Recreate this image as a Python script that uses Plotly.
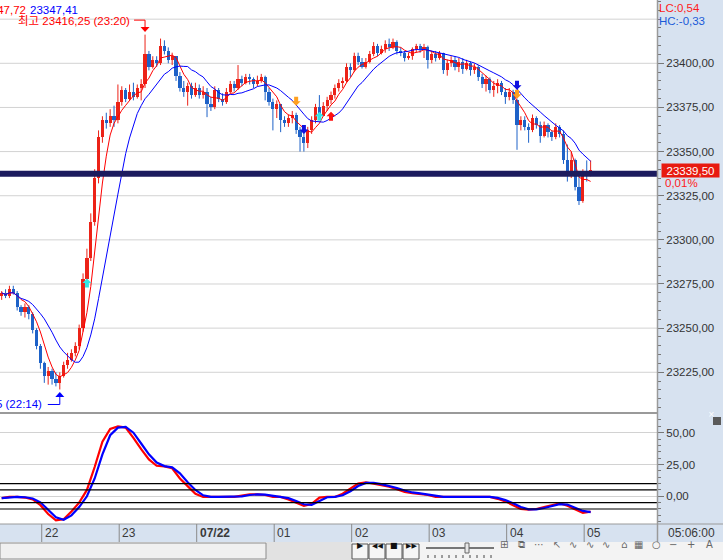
import plotly.graph_objects as go
import pandas as pd

# ---------------- data ----------------
first_open = 23268
close = [23270, 23268, 23272, 23270, 23262, 23259, 23262, 23258, 23249, 23240,
         23230, 23223, 23226, 23221, 23219, 23223, 23229, 23232, 23236, 23240,
         23250, 23278, 23290, 23310, 23335, 23358, 23368, 23366, 23370, 23368,
         23378, 23385, 23380, 23384, 23381, 23386, 23388, 23405, 23398, 23402,
         23400, 23410, 23407, 23402, 23404, 23393, 23386, 23384, 23387, 23382,
         23386, 23382, 23384, 23377, 23375, 23385, 23380, 23378, 23384, 23388,
         23386, 23391, 23389, 23392, 23391, 23388, 23390, 23392, 23384, 23378,
         23374, 23377, 23368, 23366, 23369, 23371, 23362, 23358, 23355, 23362,
         23368, 23375, 23370, 23376, 23379, 23382, 23386, 23389, 23390, 23398,
         23396, 23404, 23401, 23398, 23401, 23405, 23410, 23406, 23408, 23411,
         23409, 23412, 23407, 23406, 23403, 23404, 23408, 23410, 23408, 23409,
         23402, 23405, 23403, 23406, 23396, 23400, 23402, 23398, 23401, 23397,
         23400, 23396, 23398, 23392, 23388, 23391, 23385, 23387, 23389, 23384,
         23381, 23384, 23379, 23365, 23368, 23364, 23362, 23369, 23365, 23359,
         23365, 23361, 23358, 23364, 23360, 23345, 23336, 23345, 23330, 23322,
         23338, 23336, 23339.5]
high = [23271, 23272, 23274, 23274, 23271, 23263, 23264, 23263, 23259, 23250,
        23241, 23231, 23228, 23227, 23225, 23225, 23231, 23236, 23238, 23242,
        23252, 23281, 23295, 23315, 23340, 23362, 23370, 23372, 23374, 23376,
        23388, 23387, 23386, 23388, 23389, 23388, 23391, 23416.25, 23407, 23404,
        23404, 23414, 23413, 23409, 23406, 23404, 23395, 23390, 23389, 23389,
        23389, 23388, 23387, 23386, 23381, 23387, 23386, 23383, 23386, 23390,
        23390, 23399, 23393, 23394, 23394, 23392, 23393, 23394, 23393, 23386,
        23380, 23379, 23376, 23370, 23371, 23373, 23372, 23364, 23362, 23364,
        23370, 23377, 23382, 23378, 23381, 23384, 23388, 23391, 23392, 23400,
        23400, 23406, 23406, 23403, 23403, 23407, 23412, 23411, 23410, 23413,
        23414, 23414, 23413, 23409, 23407, 23406, 23409, 23411, 23411, 23411,
        23410, 23407, 23407, 23407, 23406, 23402, 23404, 23404, 23403, 23403,
        23402, 23401, 23400, 23399, 23394, 23393, 23392, 23390, 23391, 23390,
        23386, 23386, 23385, 23380, 23370, 23370, 23366, 23371, 23370, 23367,
        23367, 23366, 23362, 23366, 23365, 23362, 23354, 23350, 23346, 23338,
        23340, 23345, 23345]
low = [23266, 23267, 23267, 23269, 23260, 23257, 23256, 23255, 23247, 23238,
       23227, 23219, 23218, 23218, 23217, 23215.25, 23222, 23227, 23231, 23234,
       23238, 23248, 23276, 23288, 23308, 23332, 23355, 23363, 23364, 23364,
       23366, 23376, 23378, 23379, 23379, 23380, 23379, 23386, 23396, 23397,
       23398, 23399, 23405, 23400, 23399, 23390, 23384, 23381, 23376, 23380,
       23381, 23380, 23380, 23369.5, 23373, 23374, 23378, 23376, 23377, 23383,
       23384, 23385, 23387, 23388, 23388, 23386, 23387, 23389, 23379, 23376,
       23362, 23369, 23361, 23364, 23364, 23366, 23360, 23350, 23350, 23352,
       23360, 23366, 23369, 23370, 23373, 23377, 23380, 23384, 23386, 23389,
       23392, 23395, 23399, 23397, 23397, 23400, 23404, 23404, 23405, 23406,
       23407, 23408, 23405, 23404, 23401, 23402, 23402, 23406, 23406, 23403,
       23397, 23400, 23401, 23402, 23394, 23393, 23398, 23396, 23395, 23394,
       23396, 23393, 23394, 23390, 23386, 23384, 23383, 23381, 23383, 23382,
       23377, 23379, 23377, 23351, 23362, 23362, 23355, 23361, 23363, 23355,
       23358, 23358, 23356, 23357, 23358, 23343, 23333, 23335, 23328, 23319.75,
       23321, 23333, 23336]
osc = [-1.5, -0.5, -0.5, -1, -2.5, -7, -14, -19, -18, -12,
       -5, 5, 23, 43, 53, 55, 54, 46, 37, 29,
       24, 23.5, 22, 14, 8, 2, -0.5, -0.5, -0.5, -0.5,
       -0.5, 0.5, 1.5, 1.5, 1, -0.5, -0.5, -2.5, -5, -7.5,
       -6, -1, -0.5, -0.5, 2, 6, 10, 11, 10, 9,
       7.5, 5.5, 3.5, 2.5, 2, 1, -0.5, -0.5, -0.5, -0.5,
       -0.5, -0.5, -0.5, -0.5, -2, -4, -7, -10, -10.5, -10,
       -8.5, -7, -5.5, -7.5, -10, -13, -12]

times = pd.date_range("2024-07-21 21:29", periods=len(close), freq="3min")
osc_times = times[::2]

hline_level = 23337.5
osc_levels = [10, 5, -5, -10]
price_grid = [23225, 23250, 23275, 23300, 23325, 23350, 23375, 23400, 23425]
price_labels = [23225, 23250, 23275, 23300, 23325, 23350, 23375, 23400]
hour_ticks = pd.date_range("2024-07-21 22:00", periods=8, freq="1h")
hour_labels = ["22", "23", "07/22", "01", "02", "03", "04", "05"]

sig_cyan_up = ([22, 82], [23275.5, 23370])
sig_red_up = ([85], [23370])
sig_orange_down = ([76, 133], [23378.5, 23382.5])
sig_blue_down = ([78, 133], [23362.5, 23387.5])

last_change = "0,01%"
header_prev = "23347,72"
header_last = "23347,41"
lc_text = "LC:0,54"
hc_text = "HC:-0,33"
clock_text = "05:06:00"

# ---------------- derived ----------------
opens = [first_open] + close[:-1]
s = pd.Series(close)
ma_fast = s.rolling(5, min_periods=1).mean()
ma_slow = s.rolling(12, min_periods=1).mean()
osc_sig = pd.Series(osc).rolling(2, min_periods=1).mean()

W, H = 723, 560
def px(p):
    return p / W
def py(p):
    return 1 - p / H

FONT = "Liberation Sans, Noto Sans CJK KR, sans-serif"
FS = 11.5
RED = "#ec2318"
BLUE = "#1e62c8"
PANEL = "#d7e2f0"

fig = go.Figure()

# candles: wicks + bodies
for up, col in [(True, RED), (False, BLUE)]:
    idx = [k for k in range(len(close)) if (close[k] >= opens[k]) == up]
    wx, wy = [], []
    for k in idx:
        wx += [times[k], times[k], None]
        wy += [low[k], high[k], None]
    fig.add_trace(go.Scatter(x=wx, y=wy, mode="lines", line=dict(color=col, width=1),
                             xaxis="x", yaxis="y", showlegend=False, hoverinfo="skip"))
    fig.add_trace(go.Bar(x=[times[k] for k in idx],
                         base=[min(opens[k], close[k]) for k in idx],
                         y=[max(abs(close[k] - opens[k]), 1.2) for k in idx],
                         width=3 * 60 * 1000 * 0.82, marker=dict(color=col, line=dict(width=0)),
                         xaxis="x", yaxis="y", showlegend=False, hoverinfo="skip"))

fig.add_trace(go.Scatter(x=times, y=ma_fast, mode="lines",
                         line=dict(color="#ff0000", width=1), xaxis="x", yaxis="y",
                         showlegend=False, hoverinfo="skip"))
fig.add_trace(go.Scatter(x=times, y=ma_slow, mode="lines",
                         line=dict(color="#0000ff", width=1), xaxis="x", yaxis="y",
                         showlegend=False, hoverinfo="skip"))
fig.add_trace(go.Scatter(x=osc_times, y=osc, mode="lines",
                         line=dict(color="#ff0000", width=2.2), xaxis="x2", yaxis="y2",
                         showlegend=False, hoverinfo="skip"))
fig.add_trace(go.Scatter(x=osc_times, y=osc_sig, mode="lines",
                         line=dict(color="#0000ff", width=2.2), xaxis="x2", yaxis="y2",
                         showlegend=False, hoverinfo="skip"))

shapes = []
ann = []

# price gridlines
for g in price_grid:
    shapes.append(dict(type="line", xref="x domain", x0=0, x1=1, yref="y", y0=g, y1=g,
                       line=dict(color="#d2d2d2", width=1), layer="below"))

# thick horizontal line
shapes.append(dict(type="line", xref="x domain", x0=0, x1=1, yref="y",
                   y0=hline_level, y1=hline_level, line=dict(color="#1c1b5e", width=6)))
# oscillator reference lines
for lv in osc_levels:
    shapes.append(dict(type="line", xref="x2 domain", x0=0, x1=1, yref="y2",
                       y0=lv, y1=lv, line=dict(color="#000000", width=1.2)))

# signal arrows
UP = "M0,4.5 L4.5,0 L2,0 L2,-4.5 L-2,-4.5 L-2,0 L-4.5,0 Z"
DN = "M0,-4.5 L4.5,0 L2,0 L2,4.5 L-2,4.5 L-2,0 L-4.5,0 Z"
for (idxs, prices), path, col in [(sig_cyan_up, UP, "#33e6e6"), (sig_red_up, UP, "#ff1010"),
                                  (sig_orange_down, DN, "#ffa020"), (sig_blue_down, DN, "#1010e0")]:
    for i, pv in zip(idxs, prices):
        shapes.append(dict(type="path", xref="x", yref="y", xsizemode="pixel", ysizemode="pixel",
                           xanchor=times[i], yanchor=pv, path=path,
                           fillcolor=col, line=dict(width=0), layer="above"))

# highest / lowest markers
i_hi = max(range(len(high)), key=lambda k: high[k])
i_lo = min(range(len(low)), key=lambda k: low[k])
hi_col = "#ff0000"
lo_col = "#0000ff"
shapes.append(dict(type="path", xref="x", yref="y", xsizemode="pixel", ysizemode="pixel",
                   xanchor=times[i_hi], yanchor=high[i_hi], path="M0,2.5 L4.5,7.5 L-4.5,7.5 Z",
                   fillcolor=hi_col, line=dict(width=0), layer="above"))
shapes.append(dict(type="path", xref="x", yref="y", xsizemode="pixel", ysizemode="pixel",
                   xanchor=times[i_hi], yanchor=high[i_hi], path="M0,7.5 L0,14.5 L-11,14.5",
                   line=dict(color=hi_col, width=1), layer="above"))
ann.append(dict(x=times[i_hi], y=high[i_hi], xref="x", yref="y", xanchor="right", yanchor="middle",
                xshift=-13, yshift=14, showarrow=False,
                text="최고 " + f"{high[i_hi]:.2f}".replace(".", ",") + " (23:20)",
                font=dict(family=FONT, size=FS, color=hi_col)))
shapes.append(dict(type="path", xref="x", yref="y", xsizemode="pixel", ysizemode="pixel",
                   xanchor=times[i_lo], yanchor=low[i_lo], path="M0,-2.5 L4.5,-7.5 L-4.5,-7.5 Z",
                   fillcolor=lo_col, line=dict(width=0), layer="above"))
shapes.append(dict(type="path", xref="x", yref="y", xsizemode="pixel", ysizemode="pixel",
                   xanchor=times[i_lo], yanchor=low[i_lo], path="M0,-7.5 L0,-15 L-12,-15",
                   line=dict(color=lo_col, width=1), layer="above"))
ann.append(dict(x=times[i_lo], y=low[i_lo], xref="x", yref="y", xanchor="right", yanchor="middle",
                xshift=-16, yshift=-15, showarrow=False,
                text="최저 " + f"{low[i_lo]:.2f}".replace(".", ",") + " (22:14)",
                font=dict(family=FONT, size=FS, color=lo_col)))

# header text (clipped at left)
ann.append(dict(x=px(28), y=py(10), xref="paper", yref="paper", xanchor="right", yanchor="middle",
                showarrow=False, text=header_prev, font=dict(family=FONT, size=FS, color="#ff0000")))
ann.append(dict(x=px(28), y=py(10), xref="paper", yref="paper", xanchor="left", yanchor="middle",
                showarrow=False, text=header_last, font=dict(family=FONT, size=FS, color="#0000ff")))
# LC / HC
ann.append(dict(x=px(658), y=py(8), xref="paper", yref="paper", xanchor="left", yanchor="middle",
                showarrow=False, text=lc_text, borderpad=0,
                font=dict(family=FONT, size=FS, color="#ff1a1a")))
ann.append(dict(x=px(658), y=py(21), xref="paper", yref="paper", xanchor="left", yanchor="middle",
                showarrow=False, text=hc_text, borderpad=0,
                font=dict(family=FONT, size=FS, color="#1a5ad8")))
# current price box
ann.append(dict(x=px(661), y=close[-1], xref="paper", yref="y", xanchor="left", yanchor="middle",
                showarrow=False, text=f"{close[-1]:.2f}".replace(".", ","), bgcolor="#e81a10",
                borderpad=0, width=57, height=13,
                font=dict(family=FONT, size=FS, color="white")))
ann.append(dict(x=px(663), y=close[-1], xref="paper", yref="y", xanchor="left", yanchor="middle",
                yshift=-13, showarrow=False, text=last_change,
                font=dict(family=FONT, size=FS, color="#ff1a1a")))

# panel separators / borders
shapes.append(dict(type="line", xref="paper", yref="paper", x0=0, x1=px(657), y0=py(413), y1=py(413),
                   line=dict(color="#9a9a9a", width=2)))
shapes.append(dict(type="line", xref="paper", yref="paper", x0=0, x1=1, y0=py(524), y1=py(524),
                   line=dict(color="#9a9a9a", width=1)))
shapes.append(dict(type="line", xref="paper", yref="paper", x0=px(657.5), x1=px(657.5), y0=py(0), y1=py(542),
                   line=dict(color="#9a9a9a", width=1.5)))
# close button of sub panel
shapes.append(dict(type="rect", xref="paper", yref="paper", x0=px(713), x1=px(721), y0=py(425), y1=py(417),
                   fillcolor="#5a5a5a", line=dict(width=0)))
ann.append(dict(x=px(717), y=py(421), xref="paper", yref="paper", showarrow=False, text="×",
                font=dict(family="DejaVu Sans", size=8, color="white")))

# x-axis strip ticks and labels
for t, lab in zip(hour_ticks, hour_labels):
    shapes.append(dict(type="line", xref="x", yref="paper", x0=t, x1=t, y0=py(542), y1=py(524),
                       line=dict(color="#8a8a8a", width=1)))
    ann.append(dict(x=t, y=py(533), xref="x", yref="paper", xanchor="left", yanchor="middle",
                    xshift=1, showarrow=False,
                    text=f"<b>{lab}</b>" if "/" in lab else lab,
                    font=dict(family=FONT, size=12, color="#3a3a3a")))
ann.append(dict(x=px(666), y=py(533), xref="paper", yref="paper", xanchor="left", yanchor="middle",
                showarrow=False, text=clock_text, font=dict(family=FONT, size=12, color="#3a3a3a")))

# bottom toolbar
shapes.append(dict(type="rect", xref="paper", yref="paper", x0=0, x1=1, y0=py(560), y1=py(542),
                   fillcolor="#f3f3f3", line=dict(width=0)))
shapes.append(dict(type="rect", xref="paper", yref="paper", x0=px(266), x1=px(352), y0=py(560), y1=py(542),
                   fillcolor="#e2e2e2", line=dict(width=0)))
shapes.append(dict(type="rect", xref="paper", yref="paper", x0=0, x1=px(266), y0=py(559), y1=py(543),
                   fillcolor="#f0f0f0", line=dict(color="#8c8c8c", width=1)))
for x0, glyph in [(352, "▶"), (369, "◀◀"), (386, "■"), (403, "▶▶")]:
    shapes.append(dict(type="rect", xref="paper", yref="paper", x0=px(x0), x1=px(x0 + 16), y0=py(559),
                       y1=py(544), fillcolor="#f6f6f6", line=dict(color="#555", width=1)))
    ann.append(dict(x=px(x0 + 8), y=py(551.5), xref="paper", yref="paper", showarrow=False, text=glyph,
                    font=dict(family="DejaVu Sans", size=7 if len(glyph) > 1 else 8, color="#111")))
shapes.append(dict(type="line", xref="paper", yref="paper", x0=px(426), x1=px(494), y0=py(548), y1=py(548),
                   line=dict(color="#777", width=2)))
shapes.append(dict(type="rect", xref="paper", yref="paper", x0=px(465), x1=px(469), y0=py(553), y1=py(543),
                   fillcolor="#e8e8e8", line=dict(color="#666", width=1)))
for xt in range(428, 495, 7):
    shapes.append(dict(type="line", xref="paper", yref="paper", x0=px(xt), x1=px(xt), y0=py(558),
                       y1=py(555), line=dict(color="#444", width=1)))
for xc, glyph in [(510, "⊞"), (527, "⧉"), (546, "⋯"), (563, "↖"), (579, "∿"), (596, "∿"),
                  (612, "∿"), (629, "⌂"), (645, "▦"), (663, "○"), (679, "−"), (697, "+"), (715, "A")]:
    ann.append(dict(x=px(xc), y=py(552), xref="paper", yref="paper", showarrow=False, text=glyph,
                    font=dict(family="DejaVu Sans", size=10, color="#666")))

axis_common = dict(side="right", tickformat=".2f", ticks="outside", ticklen=6, tickcolor="#777",
                   showline=False, gridcolor="#d2d2d2", gridwidth=1, zeroline=False,
                   tickfont=dict(family=FONT, size=FS, color="#333"))

fig.update_layout(
    width=W, height=H, margin=dict(l=0, r=0, t=0, b=0),
    paper_bgcolor=PANEL, plot_bgcolor="white", separators=",.", showlegend=False,
    barmode="overlay", bargap=0,
    xaxis=dict(domain=[0, px(657)], range=["2024-07-21 21:27:42", "2024-07-22 05:56:24"],
               showticklabels=False, showgrid=False, zeroline=False, anchor="y", type="date"),
    xaxis2=dict(domain=[0, px(657)], matches="x", showticklabels=False, showgrid=False,
                zeroline=False, anchor="y2", type="date"),
    yaxis=dict(domain=[py(412), 1], range=[23202.5, 23435.85], tickmode="array",
               tickvals=price_labels, anchor="x", showgrid=False,
               minor=dict(dtick=5, tick0=0, ticklen=3, tickcolor="#777", showgrid=False),
               **axis_common),
    yaxis2=dict(domain=[py(524), py(414)], range=[-21.8, 64.7], dtick=25, tick0=0, anchor="x2",
                minor=dict(dtick=5, tick0=0, ticklen=3, tickcolor="#777", showgrid=False),
                **axis_common),
    shapes=shapes, annotations=ann,
)

fig.write_html("out.html")
